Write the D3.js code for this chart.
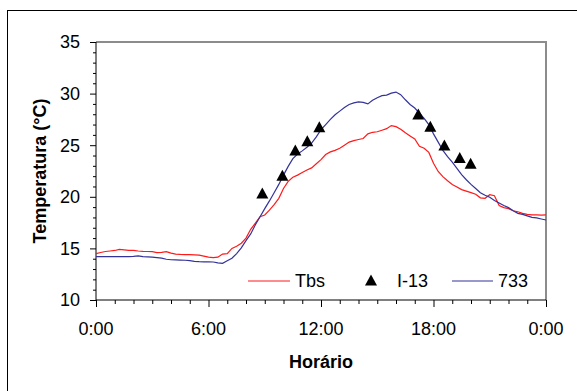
<!DOCTYPE html>
<html><head><meta charset="utf-8">
<script src="https://cdn.jsdelivr.net/npm/d3@7"></script>
<style>body{margin:0;background:#fff}svg{display:block}text{font-family:"Liberation Sans",Arial,sans-serif}</style>
</head><body>
<script>
// Time in hours (every 15 min)
const hours = d3.range(0, 24.01, 0.25);
const tbs = [14.5,14.6,14.7,14.75,14.8,14.9,14.85,14.8,14.8,14.75,14.72,14.7,14.68,14.6,14.62,14.68,
14.55,14.45,14.42,14.4,14.4,14.38,14.35,14.25,14.15,14.1,14.15,14.45,14.5,15.0,15.2,15.5,
16.0,16.85,17.45,18.07,18.24,18.7,19.25,19.85,20.8,21.5,21.9,22.1,22.35,22.6,22.8,23.2,
23.6,24.1,24.35,24.5,24.7,25.0,25.3,25.45,25.55,25.65,26.1,26.25,26.3,26.45,26.6,26.9,
26.8,26.55,26.2,25.9,25.6,24.9,24.7,24.3,23.25,22.45,21.95,21.55,21.2,20.95,20.7,20.55,
20.4,20.25,19.9,19.85,20.2,20.1,19.15,18.95,18.85,18.65,18.55,18.4,18.3,18.25,18.25,18.22,18.24];
const s733 = [14.2,14.2,14.2,14.2,14.2,14.2,14.2,14.2,14.22,14.28,14.2,14.18,14.15,14.1,14.05,13.95,
13.9,13.88,13.87,13.85,13.82,13.75,13.72,13.7,13.7,13.68,13.6,13.55,13.8,14.05,14.5,15.05,
15.75,16.4,17.3,18.07,18.85,19.6,20.4,21.2,22.1,22.95,23.7,24.15,24.45,24.8,25.2,25.8,
26.5,27.0,27.5,27.95,28.3,28.65,28.95,29.1,29.2,29.15,29.0,29.35,29.6,29.8,29.85,30.05,
30.15,29.9,29.4,28.95,28.6,28.1,27.6,27.0,26.1,25.3,24.5,23.9,23.35,22.75,22.15,21.65,
21.2,20.8,20.4,20.15,19.95,19.65,19.4,19.15,18.95,18.65,18.4,18.3,18.15,18.0,17.95,17.85,17.75];
// I-13 measurements
const i13Hours = [8.87,9.94,10.63,11.27,11.91,17.19,17.83,18.58,19.40,19.98];
const i13Temp  = [20.27,22.0,24.44,25.34,26.7,27.93,26.73,24.92,23.7,23.15];
const xTickValues = [0,6,12,18,24];
const xTickLabels = ["0:00","6:00","12:00","18:00","0:00"];
const yTickValues = [10,15,20,25,30,35];
const seriesNames = ["Tbs","I-13","733"];

const W=577,H=391;
const svg=d3.select("body").append("svg").attr("width",W).attr("height",H);
svg.append("rect").attr("x",7.5).attr("y",10.5).attr("width",620).attr("height",420)
  .attr("fill","none").attr("stroke","#000").attr("stroke-width",1);

const L=96,R=546,T=42,B=300;
const x=d3.scaleLinear().domain([0,24]).range([L,R]);
const y=d3.scaleLinear().domain([10,35]).range([B,T]);

// frame (gray top/right)
svg.append("path").attr("d",`M${L},${T}H${R}V${B}`).attr("fill","none").attr("stroke","#8c8c8c").attr("stroke-width",2);

const fs=18;
// y axis
const yAx=svg.append("g").attr("transform",`translate(${L},0)`);
yAx.call(d3.axisLeft(y).tickValues(d3.range(10,35.01,1)).tickSize(3).tickFormat(""));
yAx.call(g=>g.selectAll(".tick").filter(d=>d%5===0).select("line").attr("x2",-6));
yAx.select(".domain").attr("d",`M0,${T}V${B}`);
yAx.selectAll("line,path").attr("stroke","#000").attr("stroke-width",1);
yAx.selectAll(".tickl").data(yTickValues).join("text")
  .attr("x",-16).attr("y",d=>y(d)).attr("dy","0.35em").attr("text-anchor","end")
  .attr("font-size",fs).attr("fill","#000").text(d=>d);

// x axis
const xAx=svg.append("g").attr("transform",`translate(0,${B})`);
xAx.call(d3.axisBottom(x).tickValues(d3.range(0,24.01,1)).tickSize(4).tickFormat(""));
xAx.call(g=>g.selectAll(".tick").filter(d=>d%6===0).select("line").attr("y2",7));
xAx.select(".domain").attr("d",`M${L},0H${R}`);
xAx.selectAll("line,path").attr("stroke","#000").attr("stroke-width",1);
xAx.selectAll(".tickl").data(xTickValues).join("text")
  .attr("x",d=>x(d)).attr("y",35).attr("text-anchor","middle")
  .attr("font-size",fs).attr("fill","#000").text((d,i)=>xTickLabels[i]);

// titles
svg.append("text").attr("transform",`translate(46,${(T+B)/2}) rotate(-90)`).attr("text-anchor","middle")
  .attr("font-size",fs).attr("font-weight","bold").text("Temperatura (°C)");
svg.append("text").attr("x",(L+R)/2).attr("y",368).attr("text-anchor","middle")
  .attr("font-size",fs).attr("font-weight","bold").text("Horário");

// lines
const line=vals=>d3.line().x((d,i)=>x(hours[i])).y(d=>y(d))(vals);
svg.append("path").attr("d",line(tbs)).attr("fill","none").attr("stroke","#ff1a1a").attr("stroke-width",1.2);
svg.append("path").attr("d",line(s733)).attr("fill","none").attr("stroke","#333399").attr("stroke-width",1.2);

// triangles
const tri="M0,-6.5L6,4.5L-6,4.5Z";
svg.selectAll(".tri").data(i13Hours).join("path")
  .attr("transform",(d,i)=>`translate(${x(d)},${y(i13Temp[i])})`).attr("d",tri).attr("fill","#000");

// legend
const ly=281;
svg.append("line").attr("x1",248).attr("x2",290).attr("y1",ly).attr("y2",ly).attr("stroke","#ff1a1a").attr("stroke-width",1.2);
svg.append("text").attr("x",295).attr("y",ly).attr("dy","0.35em").attr("font-size",fs).text(seriesNames[0]);
svg.append("path").attr("transform",`translate(371,${ly})`).attr("d",tri).attr("fill","#000");
svg.append("text").attr("x",397).attr("y",ly).attr("dy","0.35em").attr("font-size",fs).text(seriesNames[1]);
svg.append("line").attr("x1",452).attr("x2",493).attr("y1",ly).attr("y2",ly).attr("stroke","#333399").attr("stroke-width",1.2);
svg.append("text").attr("x",498).attr("y",ly).attr("dy","0.35em").attr("font-size",fs).text(seriesNames[2]);
</script>
</body></html>
